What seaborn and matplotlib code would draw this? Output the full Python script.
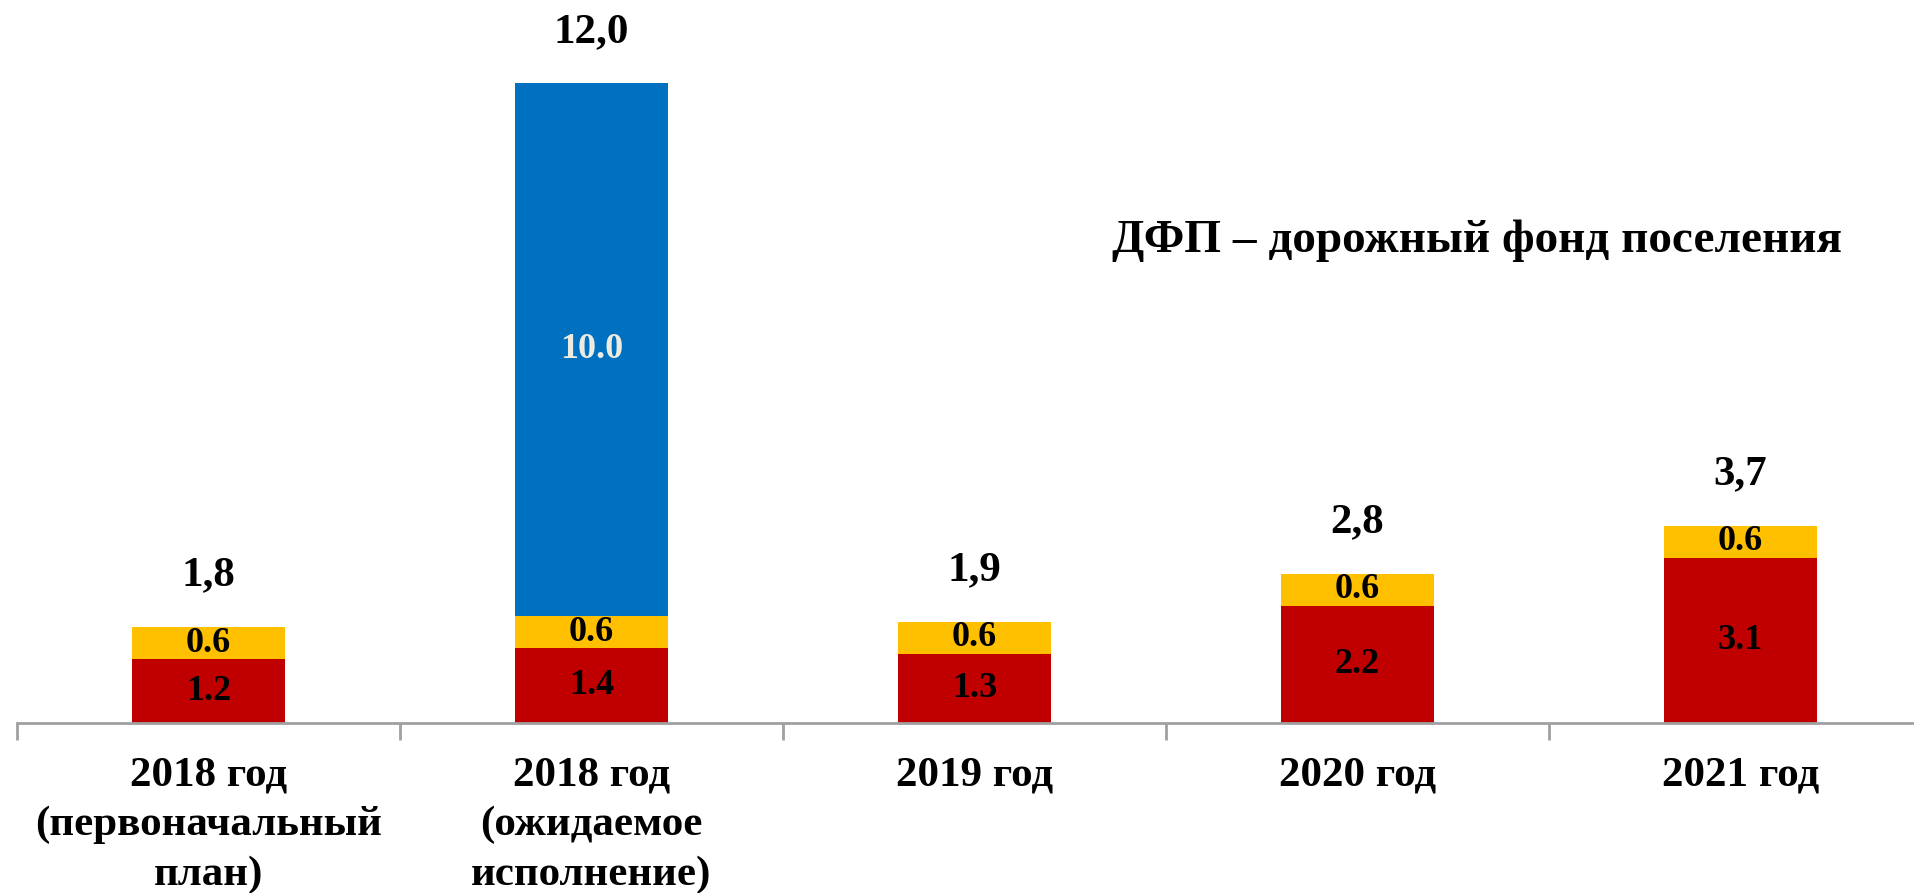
import matplotlib
matplotlib.use("Agg")
import matplotlib.pyplot as plt
import seaborn as sns
import pandas as pd

categories = ["2018 год\n(первоначальный\nплан)", "2018 год\n(ожидаемое\nисполнение)",
              "2019 год", "2020 год", "2021 год"]
red_vals = [1.2, 1.4, 1.3, 2.2, 3.1]
yellow_vals = [0.6, 0.6, 0.6, 0.6, 0.6]
blue_vals = [0.0, 10.0, 0.0, 0.0, 0.0]
totals = [1.8, 12.0, 1.9, 2.8, 3.7]
note = "ДФП – дорожный фонд поселения"

sns.set_style("white")
plt.rcParams["font.family"] = ["Liberation Serif", "DejaVu Serif"]
plt.rcParams["font.weight"] = "bold"
plt.rcParams["text.color"] = "black"
plt.rcParams["xtick.color"] = "black"

df = pd.DataFrame({"cat": categories, "red": red_vals, "yellow": yellow_vals, "blue": blue_vals})
df["ry"] = df["red"] + df["yellow"]
df["ryb"] = df["ry"] + df["blue"]

fig = plt.figure(figsize=(19.14, 8.93), dpi=100)
ax = fig.add_axes([17 / 1914, 170 / 893, 1897 / 1914, 723 / 893])

# stacked bars drawn as overlapping cumulative layers
sns.barplot(data=df, x="cat", y="ryb", color="#0070C0", width=0.4, saturation=1, linewidth=0, ax=ax)
sns.barplot(data=df, x="cat", y="ry", color="#FFC000", width=0.4, saturation=1, linewidth=0, ax=ax)
sns.barplot(data=df, x="cat", y="red", color="#C00000", width=0.4, saturation=1, linewidth=0, ax=ax)

for i in range(len(categories)):
    ax.text(i, red_vals[i] / 2, f"{red_vals[i]:.1f}", ha="center", va="center",
            fontsize=26, fontweight="bold", color="black")
    ax.text(i, red_vals[i] + yellow_vals[i] / 2, f"{yellow_vals[i]:.1f}", ha="center", va="center",
            fontsize=26, fontweight="bold", color="black")
    if blue_vals[i] > 0:
        ax.text(i, red_vals[i] + yellow_vals[i] + blue_vals[i] / 2, f"{blue_vals[i]:.1f}",
                ha="center", va="center", fontsize=26, fontweight="bold", color="#EEECE1")
    ax.annotate(f"{totals[i]:.1f}".replace(".", ","), (i, totals[i]), xytext=(0, 37),
                textcoords="offset points", ha="center", va="center", fontsize=31,
                fontweight="bold", color="black")

ax.set_xlim(-0.5, 4.453)
ax.set_ylim(0, 13.56)
ax.set_xlabel("")
ax.set_ylabel("")
ax.set_yticks([])
for s in ["top", "right", "left"]:
    ax.spines[s].set_visible(False)
ax.spines["bottom"].set_color("#A0A0A0")
ax.spines["bottom"].set_linewidth(2)

ax.set_xticks([-0.5, 0.5, 1.5, 2.5, 3.5], minor=True)
ax.tick_params(axis="x", which="minor", bottom=True, length=12, width=2, color="#A0A0A0", direction="out")
ax.tick_params(axis="x", which="major", bottom=True, length=0, pad=24, labelcolor="black")
for lbl in ax.get_xticklabels():
    lbl.set_fontsize(31)
    lbl.set_fontweight("bold")
    lbl.set_linespacing(1.38)
    lbl.set_verticalalignment("top")

fig.text(1477 / 1914, 1 - 241 / 893, note, ha="center", va="center", fontsize=34,
         fontweight="bold", color="black")

fig.savefig("out.png", dpi=100)
